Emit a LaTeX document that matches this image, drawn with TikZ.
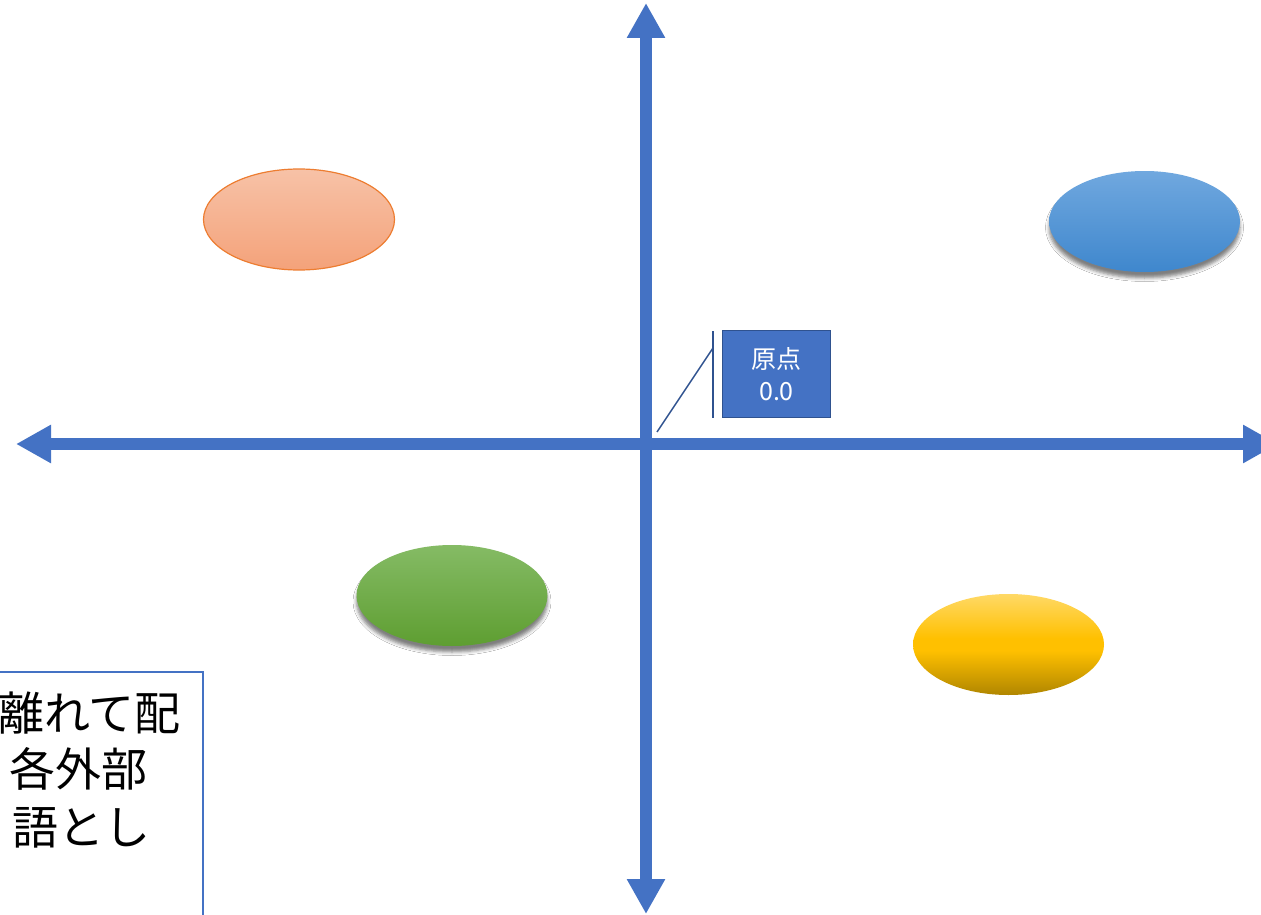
\documentclass[tikz,border=0pt]{standalone}
\usepackage{fontspec}
\setmainfont{Noto Sans CJK JP}
\usetikzlibrary{arrows.meta,shapes.geometric,shadows.blur}
\definecolor{axisblue}{HTML}{4472C4}
\definecolor{calloutline}{HTML}{2F528F}
\definecolor{orTop}{HTML}{F7C2A7}
\definecolor{orBot}{HTML}{F4A27A}
\definecolor{orLine}{HTML}{ED7D31}
\definecolor{blTop}{HTML}{70A8DF}
\definecolor{blBot}{HTML}{3F87CD}
\definecolor{grTop}{HTML}{85BB65}
\definecolor{grBot}{HTML}{5E9E31}
\definecolor{yeTop}{HTML}{FFD966}
\definecolor{yeMid}{HTML}{FFC000}
\definecolor{yeBot}{HTML}{B08600}
\pgfdeclareverticalshading{yellowsh}{100bp}{color(0bp)=(yeBot); color(25bp)=(yeBot); color(47bp)=(yeMid); color(53bp)=(yeMid); color(75bp)=(yeTop); color(100bp)=(yeTop)}
\tikzset{
  axisline/.style={line width=12pt, draw=axisblue,
    {Triangle[length=35pt,width=36pt]}-{Triangle[length=35pt,width=36pt]}},
  blob/.style={ellipse, inner sep=0pt, minimum width=191pt, minimum height=101pt},
  softshadow/.style={blur shadow={shadow xshift=0pt, shadow yshift=-6pt,
    shadow blur radius=3.5pt, shadow opacity=50}},
  boxtext/.style={anchor=east, inner sep=0pt, font=\fontsize{46}{58}\selectfont}
}
\begin{document}
\begin{tikzpicture}[x=1pt,y=-1pt]
\useasboundingbox (0,0) rectangle (1261,915);
\clip (0,0) rectangle (1261,915);
\fill[white] (0,0) rectangle (1261,915);

% ellipses
\node[blob, draw=orLine, line width=1.2pt, top color=orTop, bottom color=orBot] (orange) at (299,219.5) {};
\node[blob, softshadow, top color=blTop, bottom color=blBot] (blue) at (1144.5,221.5) {};
\node[blob, softshadow, top color=grTop, bottom color=grBot] (green) at (452,595.5) {};
\node[blob, shading=yellowsh] (yellow) at (1008.5,644.5) {};

% text box (cut off)
\node[draw=axisblue, line width=1.8pt, anchor=north east, minimum width=230pt, minimum height=270pt, inner sep=0pt] (tbox) at (204,671) {};
\node[boxtext] (t1) at (181,713) {離れて配};
\node[boxtext] (t2) at (148,769) {各外部};
\node[boxtext] (t3) at (151,828) {語とし};

% axes
\coordinate (vtop) at (646,3);
\coordinate (vbot) at (646,914);
\coordinate (hl) at (16,444);
\coordinate (hr) at (1278,444);
\draw[axisline] (vbot) -- (vtop);
\draw[axisline] (hl) -- (hr);

% callout
\node[fill=axisblue, draw=calloutline, line width=1.5pt, minimum width=108pt, minimum height=87pt,
      inner sep=0pt, text=white, align=center, font=\fontsize{25}{32}\selectfont] (orig) at (776.5,374) {原点\\0.0};
\coordinate (cA) at (713,331);
\coordinate (cB) at (713,418);
\coordinate (cK) at (713,348);
\coordinate (cT) at (657,432);
\draw[calloutline, line width=1.5pt] (cA) -- (cB);
\draw[calloutline, line width=1.5pt] (cK) -- (cT);
\end{tikzpicture}
\end{document}
